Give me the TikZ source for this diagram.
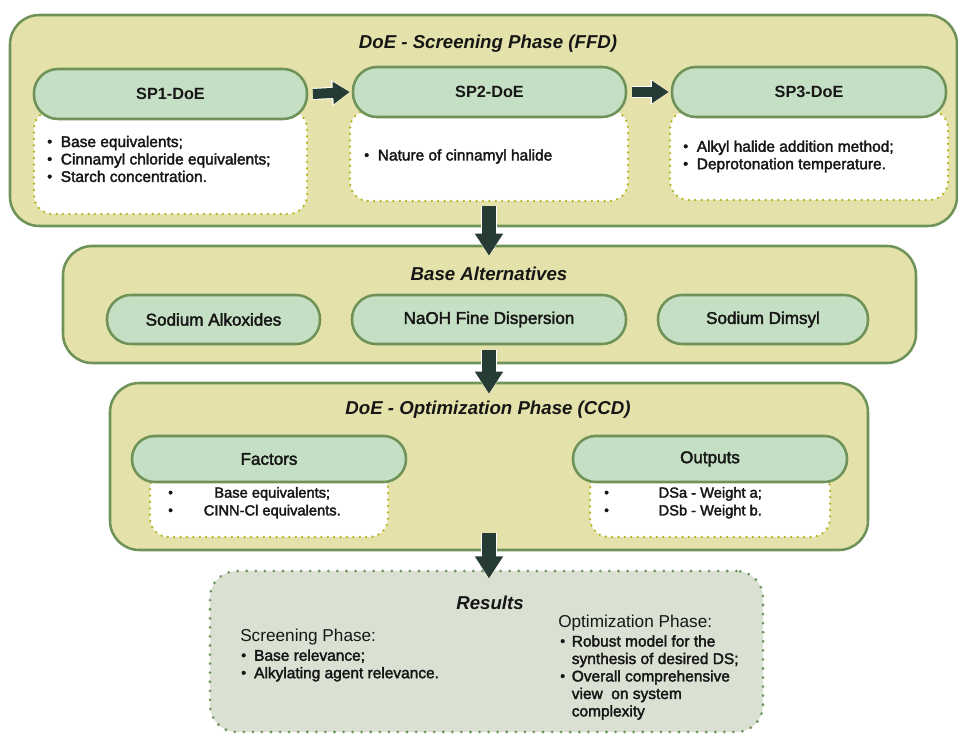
\documentclass[tikz,border=0pt]{standalone}
\usepackage{fontspec}
\setmainfont{Liberation Sans}
\newfontfamily\semib[FakeBold=2.2]{Liberation Sans}
\usetikzlibrary{arrows.meta,fit}
\definecolor{outerfill}{RGB}{228,226,170}
\definecolor{gborder}{RGB}{110,146,88}
\definecolor{pillfill}{RGB}{197,223,196}
\definecolor{resfill}{RGB}{218,225,211}
\definecolor{arrowc}{RGB}{38,59,51}
\definecolor{dotc}{RGB}{180,176,30}
\definecolor{resdot}{RGB}{110,150,95}
\definecolor{txt}{RGB}{22,22,22}
\newcommand\bul{\raisebox{0.05em}{\scalebox{0.9}{•}}}
\begin{document}
\begin{tikzpicture}[x=0.75pt,y=-0.75pt,
  every node/.style={text=txt},
  phase/.style={draw=gborder, line width=1.9pt, fill=outerfill, rounded corners=22pt, inner sep=0pt},
  pill/.style={draw=gborder, line width=1.9pt, fill=pillfill, rounded corners=18pt, inner sep=0pt},
  itembox/.style={draw=dotc, fill=white, line width=1.9pt, dash pattern=on 0pt off 4.8pt, line cap=round, rounded corners=14pt, inner sep=0pt},
  resbox/.style={draw=resdot, fill=resfill, line width=2.3pt, dash pattern=on 0pt off 6.8pt, line cap=round, rounded corners=20pt, inner sep=0pt},
  ttl/.style={font=\fontsize{14}{16}\selectfont\bfseries\itshape, inner sep=0pt},
  hdr/.style={font=\fontsize{12.2}{14}\selectfont\bfseries, inner sep=0pt},
  bpill/.style={font=\semib\fontsize{12.8}{15}\selectfont, inner sep=0pt},
  fpill/.style={rounded corners=17pt},
  items/.style={font=\semib\fontsize{11.6}{13.1}\selectfont, inner sep=0pt, anchor=west},
  fitems/.style={font=\semib\fontsize{11}{13.3}\selectfont, inner sep=0pt, anchor=west},
  reshead/.style={font=\fontsize{12.9}{15}\selectfont, inner sep=0pt, anchor=west},
  harrow/.style={draw=arrowc, line width=7.5pt, -{Triangle[width=16pt,length=12.5pt]},
    preaction={draw=white, line width=9pt, -{Triangle[width=18.5pt,length=13.5pt]}}},
  varrow/.style={draw=arrowc, line width=10.5pt, -{Triangle[width=20pt,length=16.5pt]},
    preaction={draw=white, line width=12pt, -{Triangle[width=22.5pt,length=17.5pt]}}}
]
\useasboundingbox (0,0) rectangle (958,734);

% ---------- Screening phase ----------
\node[phase, fit={(10,15)(957,226)}] (scr) {};
\node[ttl] (scrt) at (488,44) {DoE - Screening Phase (FFD)};

\node[itembox, fit={(34,110)(307,214)}] (sp1b) {};
\node[pill, fit={(34,69)(307,119)}] (sp1) {};
\node[hdr] (sp1t) at (sp1.center) {SP1-DoE};
\node[items] (sp1i) at (47,161) {\begin{tabular}{@{}l@{\hspace{6.5pt}}l@{}}
\bul & Base equivalents;\\
\bul & Cinnamyl chloride equivalents;\\
\bul & Starch concentration.\end{tabular}};

\node[itembox, fit={(350,110)(628,201)}] (sp2b) {};
\node[pill, fit={(353,67)(626,117)}] (sp2) {};
\node[hdr] (sp2t) at (sp2.center) {SP2-DoE};
\node[items] (sp2i) at (364,157) {\begin{tabular}{@{}l@{\hspace{6.5pt}}l@{}}
\bul & Nature of cinnamyl halide\end{tabular}};

\node[itembox, fit={(670,110)(948,200)}] (sp3b) {};
\node[pill, fit={(672,67)(946,117)}] (sp3) {};
\node[hdr] (sp3t) at (sp3.center) {SP3-DoE};
\node[items] (sp3i) at (683,157) {\begin{tabular}{@{}l@{\hspace{6.5pt}}l@{}}
\bul & Alkyl halide addition method;\\
\bul & Deprotonation temperature.\end{tabular}};

\draw[harrow] ([xshift=3.5pt]sp1.east) -- ([xshift=-1.5pt]sp2.west);
\draw[harrow] ([xshift=3.5pt]sp2.east) -- ([xshift=-1.5pt]sp3.west);

% ---------- Base alternatives ----------
\node[phase, fit={(63,246)(916,363)}] (base) {};
\node[ttl] (baset) at (489,274) {Base Alternatives};
\node[pill, fit={(107,295)(320,344)}] (alk) {};
\node[bpill] (alkt) at (alk.center) {Sodium Alkoxides};
\node[pill, fit={(352,295)(626,344)}] (naoh) {};
\node[bpill] (naoht) at (naoh.center) {NaOH Fine Dispersion};
\node[pill, fit={(658,295)(868,344)}] (dim) {};
\node[bpill] (dimt) at (dim.center) {Sodium Dimsyl};

\draw[varrow] ([yshift=-3pt]sp2b.south) -- ([yshift=-8.25pt]sp2b.south |- base.north);

% ---------- Optimization phase ----------
\node[phase, fit={(110,383)(868,550)}] (opt) {};
\node[ttl] (optt) at (488,410) {DoE - Optimization Phase (CCD)};

\node[itembox, fit={(150,470)(388,537)}] (facb) {};
\node[pill, fpill, fit={(132,436)(406,482)}] (fac) {};
\node[bpill] (fact) at (fac.center) {Factors};
\node[fitems] (faci) at (168,503) {\begin{tabular}{@{}l@{}}
\makebox[21pt][l]{\bul}\makebox[114pt]{Base equivalents;}\\
\makebox[21pt][l]{\bul}\makebox[114pt]{CINN-Cl equivalents.}\end{tabular}};

\node[itembox, fit={(590,470)(830,537)}] (outb) {};
\node[pill, fpill, fit={(573,436)(847,482)}] (outp) {};
\node[bpill] (outt) at (outp.center) {Outputs};
\node[fitems] (outi) at (604,503) {\begin{tabular}{@{}l@{}}
\makebox[21pt][l]{\bul}\makebox[117pt]{DSa - Weight a;}\\
\makebox[21pt][l]{\bul}\makebox[117pt]{DSb - Weight b.}\end{tabular}};

\draw[varrow] ([yshift=-3.75pt]naoh.south) -- ([yshift=-9pt]naoh.south |- opt.north);

% ---------- Results ----------
\node[resbox, fit={(210,571)(763,732)}] (res) {};
\node[ttl] (rest) at (490,603) {Results};

\node[reshead] (scrh) at (240,637) {Screening Phase:};
\node[items] (scri) at (241,666) {\begin{tabular}{@{}l@{\hspace{6pt}}l@{}}
\bul & Base relevance;\\
\bul & Alkylating agent relevance.\end{tabular}};

\node[reshead] (opth) at (558,623) {Optimization Phase:};
\node[items] (opti) at (560,678) {\begin{tabular}{@{}l@{\hspace{5pt}}l@{}}
\bul & Robust model for the\\
 & synthesis of desired DS;\\
\bul & Overall comprehensive\\
 & view\ \ on system\\
 & complexity\end{tabular}};

\draw[varrow] ([yshift=13.5pt]opt.south) -- ([yshift=-6.75pt]opt.south |- res.north);
\end{tikzpicture}
\end{document}
